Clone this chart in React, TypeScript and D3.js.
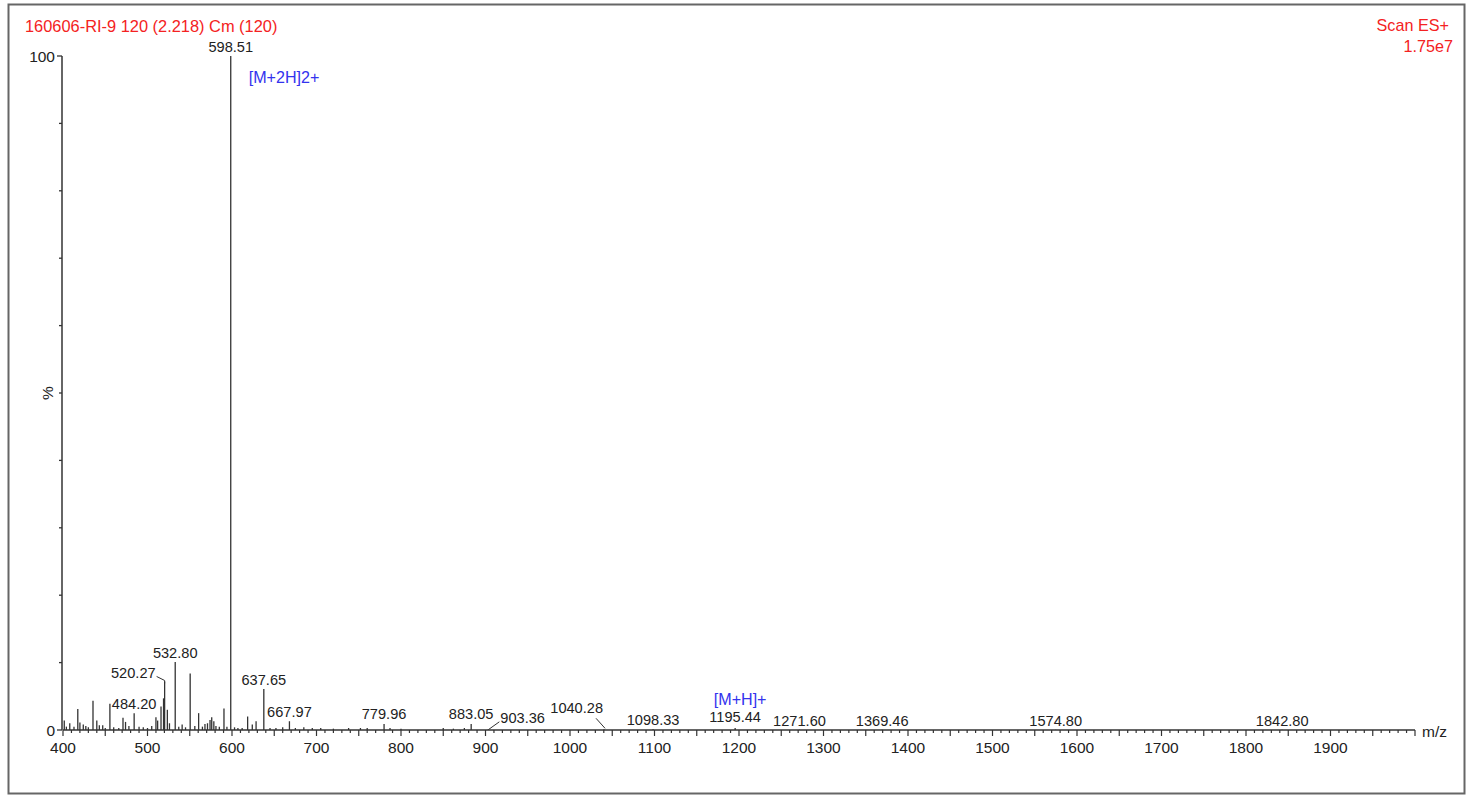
import React from "react";
import * as d3 from "d3";

// ---- data ----
const peakMz: number[] = [
  401.5, 404, 408, 413, 417.5, 420, 424, 427, 430, 435.5, 440, 443, 447, 450, 455.5, 460, 466,
  471, 474, 478, 484.2, 490, 495, 500, 505, 510, 512, 516, 519, 520.27, 523.5, 526, 532.8, 537,
  541, 545, 550.5, 556, 560.5, 565, 568, 571, 574, 576, 578.5, 581, 585, 590.5, 594, 598.51,
  603, 607, 612, 618.5, 624, 628.5, 637.65, 645, 652, 660, 667.97, 675, 685, 695, 705, 720,
  738, 752, 760, 779.96, 787, 800, 850, 862, 875, 883.05, 903.36, 1040.28, 1098.33, 1195.44,
  1271.6, 1369.46, 1574.8, 1842.8,
];
const peakIntensity: number[] = [
  1.4, 0.5, 1.0, 0.5, 3.1, 1.1, 0.8, 0.6, 0.4, 4.35, 1.4, 0.7, 0.7, 0.3, 3.9, 0.4, 0.3,
  1.8, 1.2, 0.6, 2.5, 0.5, 0.4, 0.3, 0.6, 1.9, 1.4, 3.5, 4.7, 7.2, 3.0, 1.0, 10.1, 0.5,
  0.8, 0.4, 8.4, 0.6, 2.5, 0.5, 0.9, 1.0, 1.5, 1.9, 1.3, 0.6, 0.5, 3.2, 0.5, 100,
  0.4, 0.3, 0.3, 2.0, 0.8, 1.3, 6.1, 0.3, 0.3, 0.4, 1.3, 0.3, 0.4, 0.3, 0.3, 0.2,
  0.3, 0.3, 0.3, 0.9, 0.3, 0.2, 0.3, 0.2, 0.3, 0.9, 0.1, 0.1, 0.1, 0.3,
  0.05, 0.05, 0.05, 0.05,
];
const labelledMz: number[] = [
  598.51, 532.8, 520.27, 484.2, 637.65, 667.97, 779.96, 883.05, 903.36, 1040.28, 1098.33,
  1195.44, 1271.6, 1369.46, 1574.8, 1842.8,
];
const ionLabels: { mz: number; text: string }[] = [
  { mz: 598.51, text: "[M+2H]2+" },
  { mz: 1195.44, text: "[M+H]+" },
];
const headerLeft = "160606-RI-9 120 (2.218) Cm (120)";
const headerRight = ["Scan ES+", "1.75e7"];
const xDomain: [number, number] = [400, 2000];
const xTickLabels: number[] = [400, 500, 600, 700, 800, 900, 1000, 1100, 1200, 1300, 1400, 1500, 1600, 1700, 1800, 1900];
const yTickLabels: number[] = [0, 100];

const FONT = "'Liberation Sans', Arial, Helvetica, sans-serif";

export default function App() {
  const x = d3.scaleLinear().domain(xDomain).range([63, 1415]);
  const y = d3.scaleLinear().domain([0, 100]).range([730, 56]);
  const peaks = peakMz.map((m, i) => ({ mz: m, v: peakIntensity[i] }));
  const intensityOf = (m: number) => peaks.find((p) => p.mz === m)?.v ?? 0;

  const minorX = d3.range(400, 2001, 10);
  const yMinor = d3.range(0, 101, 10);

  const fmt = d3.format(".2f");

  const renderLabel = (m: number) => {
    const px = x(m);
    const py = y(intensityOf(m));
    const text = fmt(m);
    const common = { fontFamily: FONT, fontSize: 14.6, fill: "#222" } as const;
    if (m === 520.27) {
      return (
        <g key={m}>
          <text x={px - 9} y={py - 3} textAnchor="end" {...common}>{text}</text>
          <polyline points={`${px - 8},${py - 5} ${px},${py - 1} ${px},${py + 2}`} fill="none" stroke="#333" strokeWidth={1} />
        </g>
      );
    }
    if (m === 903.36) {
      return (
        <g key={m}>
          <text x={px + 12} y={py - 6} textAnchor="start" {...common}>{text}</text>
          <line x1={px + 11} y1={py - 7.5} x2={px + 0.5} y2={py} stroke="#333" strokeWidth={1} />
        </g>
      );
    }
    if (m === 1040.28) {
      return (
        <g key={m}>
          <text x={px - 1} y={py - 16} textAnchor="end" {...common}>{text}</text>
          <line x1={px - 8} y1={py - 11} x2={px + 1} y2={py - 1} stroke="#333" strokeWidth={1} />
        </g>
      );
    }
    const dy = m === 779.96 || m === 883.05 ? -5 : m === 1195.44 ? -6 : -4;
    return (
      <text key={m} x={px} y={py + dy} textAnchor="middle" {...common}>{text}</text>
    );
  };

  return (
    <svg
      width={1471}
      height={796}
      style={{ position: "absolute", left: 0, top: 0, background: "#fff" }}
    >
      <rect x={0} y={0} width={1471} height={796} fill="#fff" />
      <rect x={8.5} y={4.5} width={1456} height={789} fill="none" stroke="#666" strokeWidth={2} />

      {/* header */}
      <text x={25} y={32} fontFamily={FONT} fontSize={16.4} fill="#f42222">{headerLeft}</text>
      <text x={1449} y={31} textAnchor="end" fontFamily={FONT} fontSize={16.2} fill="#f42222">{headerRight[0]}</text>
      <text x={1453} y={52} textAnchor="end" fontFamily={FONT} fontSize={16.2} fill="#f42222">{headerRight[1]}</text>

      {/* peaks */}
      <g stroke="#333" strokeWidth={1.3}>
        {peaks.map((p) => (
          <line key={p.mz} x1={x(p.mz)} x2={x(p.mz)} y1={y(0)} y2={y(p.v)} />
        ))}
      </g>

      {/* y axis */}
      <line x1={62} x2={62} y1={y(100)} y2={y(0)} stroke="#333" strokeWidth={1.5} />
      {yMinor.map((t) => (
        <line key={t} x1={t === 0 || t === 100 ? 57 : 59} x2={62} y1={y(t)} y2={y(t)} stroke="#333" strokeWidth={1.3} />
      ))}
      {yTickLabels.map((t) => (
        <text key={t} x={55} y={y(t) + 5.5} textAnchor="end" fontFamily={FONT} fontSize={15.5} fill="#222">{t}</text>
      ))}
      <text transform={`translate(53,${y(50)}) rotate(-90)`} textAnchor="middle" fontFamily={FONT} fontSize={15.5} fill="#222">%</text>

      {/* x axis */}
      <line x1={x(400)} x2={x(2000)} y1={y(0)} y2={y(0)} stroke="#333" strokeWidth={1.5} />
      {minorX.map((t) => (
        <line key={t} x1={x(t)} x2={x(t)} y1={y(0)} y2={y(0) + (t % 50 === 0 ? 6 : 3)} stroke="#333" strokeWidth={1.2} />
      ))}
      {xTickLabels.map((t) => (
        <text key={t} x={x(t)} y={753} textAnchor="middle" fontFamily={FONT} fontSize={15.5} fill="#222">{t}</text>
      ))}
      <text x={1422} y={737} fontFamily={FONT} fontSize={15.5} fill="#222">m/z</text>

      {/* peak labels */}
      {labelledMz.map(renderLabel)}

      {/* ion annotations */}
      <text x={x(ionLabels[0].mz) + 18} y={83} fontFamily={FONT} fontSize={16.1} fill="#3333ee">{ionLabels[0].text}</text>
      <text x={x(ionLabels[1].mz) + 5} y={705} textAnchor="middle" fontFamily={FONT} fontSize={16.1} fill="#3333ee">{ionLabels[1].text}</text>
    </svg>
  );
}
